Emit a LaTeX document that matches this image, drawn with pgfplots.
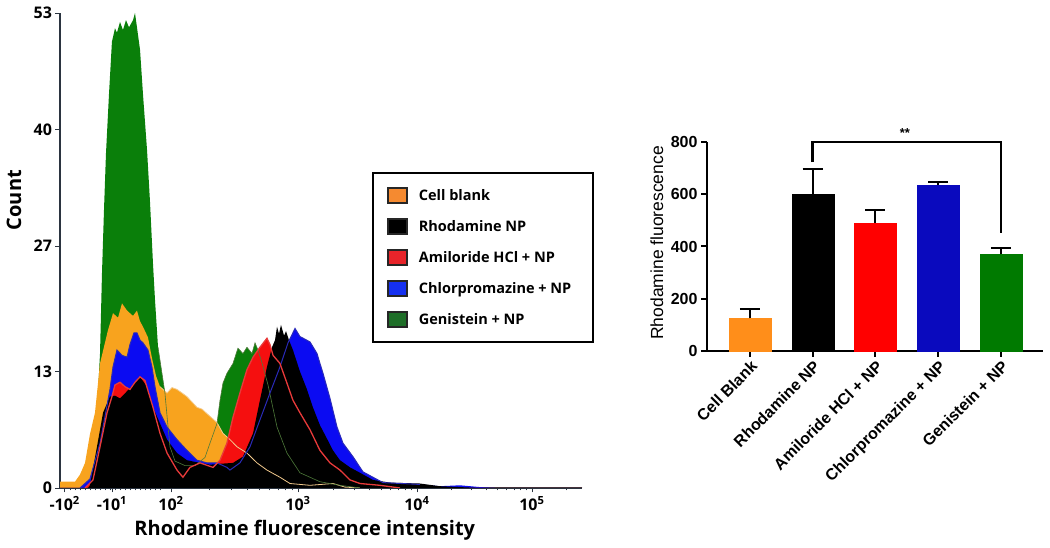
\documentclass[border=0pt]{standalone}
\usepackage{pgfplots}
\pgfplotsset{compat=1.18}
\usepackage{fontspec}
\setmainfont{Open Sans}
\newfontfamily\arialf{Liberation Sans}
\definecolor{hgreen}{HTML}{0A7F0A}
\definecolor{horange}{HTML}{F8A31E}
\definecolor{hblue}{HTML}{0B0BF2}
\definecolor{hred}{HTML}{F50F0F}
\definecolor{htan}{HTML}{F3CB8E}
\definecolor{hlinegreen}{HTML}{4E7A3A}
\definecolor{hlineblue}{HTML}{2A2AB8}
\definecolor{hlinered}{HTML}{E83A3A}
\definecolor{axgray}{HTML}{2B3440}
\definecolor{lorange}{HTML}{F58A30}
\definecolor{lred}{HTML}{E8242A}
\definecolor{lblue}{HTML}{1530F0}
\definecolor{lgreen}{HTML}{1E6E28}
\definecolor{borange}{HTML}{FF8E1A}
\definecolor{bred}{HTML}{FF0000}
\definecolor{bblue}{HTML}{0A0ABE}
\definecolor{bgreen}{HTML}{007A00}
\begin{document}
\begin{tikzpicture}
\useasboundingbox (0,0) rectangle (1050pt,548pt);
\begin{axis}[
  at={(60pt,60pt)}, anchor=south west,
  scale only axis, width=522pt, height=475pt,
  xmin=0, xmax=4.462, ymin=0, ymax=53,
  axis x line=bottom, axis y line=left,
  axis line style={-, axgray, line width=1.2pt},
  tick align=outside, major tick length=4.5pt, minor tick length=2.5pt,
  every tick/.style={axgray, line width=0.8pt},
  xtick={0.04,0.444,0.949,2.034,3.051,4.034},
  xticklabels={-10\textsuperscript{2},-10\textsuperscript{1},10\textsuperscript{2},10\textsuperscript{3},10\textsuperscript{4},10\textsuperscript{5}},
  minor xtick={0.085,0.128,...,0.90,1.276,1.467,1.602,1.707,1.793,1.866,1.929,1.984,2.340,2.519,2.646,2.745,2.825,2.893,2.952,3.004,3.347,3.520,3.643,3.738,3.816,3.882,3.939,3.989,4.330},
  ytick={0,13,27,40,53},
  ticklabel style={font=\fontsize{16}{18}\selectfont\bfseries},
  /pgf/number format/assume math mode=true,
  xlabel={Rhodamine fluorescence intensity},
  ylabel={Count},
  label style={font=\fontsize{20}{24}\selectfont\bfseries},
  xlabel style={at={(axis description cs:0.469,-0.088)}, anchor=center},
  ylabel style={at={(axis description cs:-0.088,0.606)}, anchor=center},
  legend style={at={(axis description cs:0.598,0.665)}, anchor=north west,
    draw=black, line width=1.8pt, font=\fontsize{14.5}{17}\selectfont\bfseries,
    inner xsep=8pt, inner ysep=14pt, row sep=14pt},
  legend cell align=left,
  legend image code/.code={\draw[#1, draw=black!85, line width=1.5pt] (6pt,-7pt) rectangle (25pt,8pt); \path (0pt,0pt) (34pt,0pt);},
]
% filled histograms (back to front)
\addplot[fill=hgreen, draw=none, forget plot] coordinates {
(0,0) (0.25,0) (0.274,0.9) (0.316,8.4) (0.342,15) (0.359,24) (0.376,31) (0.393,37.3) (0.419,44) (0.444,49.8)
(0.453,50.3) (0.470,51.3) (0.487,50.8) (0.513,52) (0.538,51.1) (0.564,52.2) (0.590,51.4) (0.624,52.2) (0.641,53)
(0.658,51.4) (0.684,48.9) (0.709,44) (0.744,37.7) (0.769,32) (0.795,25) (0.812,21) (0.838,15.7) (0.897,10.6)
(0.915,8) (0.940,4.6) (0.983,3) (1.068,2.5) (1.154,2.5) (1.239,3.4) (1.282,5) (1.342,7.2) (1.368,9.8) (1.393,11.7)
(1.427,12.8) (1.479,13.9) (1.521,15.6) (1.564,15) (1.598,15.7) (1.641,15) (1.667,16.2) (1.692,15.4) (1.726,14)
(1.778,11.5) (1.855,6.8) (1.940,3.9) (2.051,1.7) (2.222,0.7) (2.393,0.3) (2.564,0) (4.462,0)} \closedcycle;
\addplot[fill=horange, draw=none, forget plot] coordinates {
(0,0.7) (0.128,0.7) (0.171,1.5) (0.214,2.8) (0.256,6) (0.299,8.4) (0.342,13.9) (0.410,17.6) (0.453,19.5) (0.496,19)
(0.530,20.6) (0.573,19.8) (0.624,19.2) (0.658,19.8) (0.684,18.6) (0.709,18) (0.752,16.8) (0.786,14.5) (0.821,12.5)
(0.855,11.3) (0.915,10.6) (0.957,11.2) (1.000,11) (1.043,10.6) (1.085,10.2) (1.128,9.6) (1.171,9) (1.214,8.8)
(1.256,8.3) (1.282,8) (1.342,7.3) (1.393,6.1) (1.453,5.4) (1.513,4.6) (1.598,3.9) (1.684,2.8) (1.769,2) (1.880,1.2)
(1.966,0.5) (2.137,0.3) (2.333,0.5) (2.436,0.1) (2.564,0) (4.462,0)} \closedcycle;
\addplot[fill=hblue, draw=none, forget plot] coordinates {
(0,0) (0.171,0) (0.256,1) (0.342,5) (0.385,8) (0.427,11) (0.453,13.5) (0.487,15.4) (0.530,14.8) (0.573,14.6)
(0.598,16) (0.632,17.3) (0.658,17.3) (0.684,16.5) (0.709,16.2) (0.752,15.4) (0.786,13.5) (0.812,11.3) (0.855,8.4)
(0.915,6.8) (1.000,5.4) (1.085,4.2) (1.171,3.1) (1.256,2.8) (1.342,2.8) (1.427,2.3) (1.453,2) (1.538,2.8) (1.624,4.6)
(1.709,7.6) (1.795,10.6) (1.880,13.5) (1.949,16.2) (2.009,17.8) (2.051,16.9) (2.137,16.3) (2.197,15) (2.222,13.9)
(2.248,12.8) (2.308,10) (2.368,6.8) (2.419,5) (2.504,3.5) (2.590,1.8) (2.675,1.2) (2.761,0.6) (3.077,0.4)
(3.248,0.2) (3.419,0.3) (3.590,0.1) (3.761,0) (4.462,0)} \closedcycle;
\addplot[fill=hred, draw=none, forget plot] coordinates {
(0,0) (0.214,0) (0.282,0.9) (0.342,4.6) (0.402,8.4) (0.444,10.2) (0.470,11.5) (0.513,11.8) (0.556,11.3) (0.598,11)
(0.641,11.8) (0.684,12.4) (0.726,12) (0.795,9) (0.855,6.1) (0.915,3.9) (1.000,2) (1.051,1.2) (1.111,2.3) (1.197,2.8)
(1.308,2.3) (1.368,3.1) (1.427,5) (1.479,7.9) (1.538,10.6) (1.598,13.2) (1.650,14.6) (1.709,15.7) (1.769,16.7)
(1.795,16) (1.821,14.8) (1.880,13.9) (1.940,11.7) (1.991,9.8) (2.051,8.4) (2.137,6.5) (2.222,4.2) (2.308,2.8)
(2.393,2) (2.479,0.9) (2.564,0.5) (2.735,0.3) (2.906,0) (4.462,0)} \closedcycle;
\addplot[fill=black, draw=none, forget plot] coordinates {
(0,0) (0.239,0) (0.256,0.3) (0.316,4.6) (0.368,8.4) (0.427,10.2) (0.470,10.3) (0.513,10) (0.573,10.8) (0.624,11.5)
(0.684,12.4) (0.744,11.3) (0.795,9) (0.855,7.2) (0.915,5.4) (1.000,3.9) (1.085,3.1) (1.197,2.8) (1.282,2.6)
(1.368,2.7) (1.479,2.8) (1.564,3.5) (1.650,6.1) (1.709,9.8) (1.769,13.5) (1.812,15.7) (1.838,16.5) (1.855,18)
(1.872,17.2) (1.889,18.2) (1.915,17) (1.932,17.5) (1.957,16.5) (1.991,15.4) (2.051,13) (2.111,11) (2.162,9)
(2.222,7) (2.282,5.5) (2.333,4.2) (2.393,3.1) (2.479,2.3) (2.564,1.7) (2.675,0.9) (2.821,0.6) (3.077,0.5)
(3.248,0.2) (3.419,0.1) (3.590,0) (4.462,0)} \closedcycle;
% outlines on top
\addplot[draw=htan, line width=0.8pt, forget plot] coordinates {
(0.855,11.3) (0.915,10.6) (0.957,11.2) (1.000,11) (1.043,10.6) (1.085,10.2) (1.128,9.6) (1.171,9) (1.214,8.8)
(1.256,8.3) (1.282,8) (1.342,7.3) (1.393,6.1) (1.453,5.4) (1.513,4.6) (1.598,3.9) (1.684,2.8) (1.769,2) (1.880,1.2)
(1.966,0.5) (2.137,0.3) (2.333,0.5) (2.436,0.1) (2.564,0)};
\addplot[draw=hlinegreen, line width=0.6pt, forget plot] coordinates {
(0.838,15.7) (0.897,10.6) (0.915,8) (0.940,4.6) (0.983,3) (1.068,2.5) (1.154,2.5) (1.239,3.4) (1.282,5) (1.342,7.2)
(1.368,9.8) (1.393,11.7) (1.427,12.8) (1.479,13.9) (1.521,15.6) (1.564,15) (1.598,15.7) (1.641,15) (1.667,16.2)
(1.692,15.4) (1.726,14) (1.778,11.5) (1.855,6.8) (1.940,3.9) (2.051,1.7) (2.222,0.7) (2.393,0.3) (2.564,0)};
\addplot[draw=hlineblue, line width=1pt, forget plot] coordinates {
(0.171,0) (0.256,1) (0.342,5) (0.385,8) (0.427,11) (0.453,13.5) (0.487,15.4) (0.530,14.8) (0.573,14.6)
(0.598,16) (0.632,17.3) (0.658,17.3) (0.684,16.5) (0.709,16.2) (0.752,15.4) (0.786,13.5) (0.812,11.3) (0.855,8.4)
(0.915,6.8) (1.000,5.4) (1.085,4.2) (1.171,3.1) (1.256,2.8) (1.342,2.8) (1.427,2.3) (1.453,2) (1.538,2.8) (1.624,4.6)
(1.709,7.6) (1.795,10.6) (1.880,13.5) (1.949,16.2) (2.009,17.8) (2.051,16.9) (2.137,16.3) (2.197,15) (2.222,13.9)
(2.248,12.8) (2.308,10) (2.368,6.8) (2.419,5) (2.504,3.5) (2.590,1.8) (2.675,1.2) (2.761,0.6) (3.077,0.4)};
\addplot[draw=hlinered, line width=1.3pt, forget plot] coordinates {
(0.214,0) (0.282,0.9) (0.342,4.6) (0.402,8.4) (0.444,10.2) (0.470,11.5) (0.513,11.8) (0.556,11.3) (0.598,11)
(0.641,11.8) (0.684,12.4) (0.726,12) (0.795,9) (0.855,6.1) (0.915,3.9) (1.000,2) (1.051,1.2) (1.111,2.3) (1.197,2.8)
(1.308,2.3) (1.368,3.1) (1.427,5) (1.479,7.9) (1.538,10.6) (1.598,13.2) (1.650,14.6) (1.709,15.7) (1.769,16.7)
(1.795,16) (1.821,14.8) (1.880,13.9) (1.940,11.7) (1.991,9.8) (2.051,8.4) (2.137,6.5) (2.222,4.2) (2.308,2.8)
(2.393,2) (2.479,0.9) (2.564,0.5) (2.735,0.3) (2.906,0)};
\addlegendimage{fill=lorange}\addlegendentry{Cell blank}
\addlegendimage{fill=black}\addlegendentry{Rhodamine NP}
\addlegendimage{fill=lred}\addlegendentry{Amiloride HCl + NP}
\addlegendimage{fill=lblue}\addlegendentry{Chlorpromazine + NP\rule{12pt}{0pt}}
\addlegendimage{fill=lgreen}\addlegendentry{Genistein + NP}
\end{axis}

\begin{axis}[
  at={(707pt,197pt)}, anchor=south west,
  scale only axis, width=336pt, height=209pt,
  xmin=-0.685, xmax=4.67, ymin=0, ymax=800,
  axis x line=bottom, axis y line=left,
  axis line style={-, black, line width=2.2pt},
  tick align=outside, major tick length=6pt,
  every tick/.style={black, line width=2pt},
  xtick={0,1,2,3,4},
  xticklabels={Cell Blank, Rhodamine NP, Amiloride HCl + NP, Chlorpromazine + NP, Genistein + NP},
  x tick label style={rotate=45, anchor=north east, inner sep=1.5pt, font=\arialf\bfseries\fontsize{16}{18}\selectfont},
  ytick={0,200,400,600,800},
  y tick label style={font=\arialf\bfseries\fontsize{16}{18}\selectfont},
  /pgf/number format/assume math mode=true,
  ylabel={Rhodamine fluorescence},
  ylabel style={font=\arialf\fontsize{17.5}{20}\selectfont, at={(axis description cs:-0.149,0.517)}, anchor=center},
  ybar, bar width=0.67,
  error bars/y dir=plus, error bars/y explicit,
  error bars/error bar style={line width=2pt, black},
  error bars/error mark options={rotate=90, mark size=10pt, line width=2pt, black},
  clip=false,
]
\addplot[fill=borange, draw=borange, bar shift=0pt] coordinates {(0,125) +- (0,35)};
\addplot[fill=black, draw=black, bar shift=0pt] coordinates {(1,600) +- (0,97)};
\addplot[fill=bred, draw=bred, bar shift=0pt] coordinates {(2,490) +- (0,50)};
\addplot[fill=bblue, draw=bblue, bar shift=0pt] coordinates {(3,635) +- (0,13)};
\addplot[fill=bgreen, draw=bgreen, bar shift=0pt] coordinates {(4,370) +- (0,25)};
\draw[line width=2.5pt, line join=miter] (axis cs:1,723) -- (axis cs:1,800) -- (axis cs:4,800) -- (axis cs:4,452);
\node[font=\arialf\bfseries\fontsize{13}{14}\selectfont] at (axis cs:2.47,834) {**};
\end{axis}
\end{tikzpicture}
\end{document}
